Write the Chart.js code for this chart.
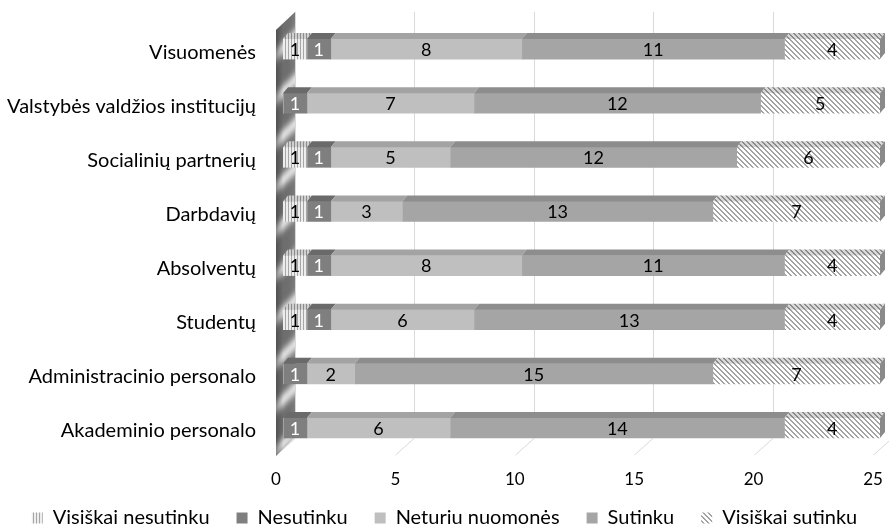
<!DOCTYPE html>
<html><head><meta charset="utf-8">
<script src="https://cdn.jsdelivr.net/npm/chart.js@4/dist/chart.umd.min.js"></script>
<style>html,body{margin:0;padding:0;background:#fff}</style>
</head><body>
<canvas id="c" width="889" height="530" style="width:889px;height:530px;display:block"></canvas>
<script>
const categories = ['Visuomenės','Valstybės valdžios institucijų','Socialinių partnerių','Darbdavių','Absolventų','Studentų','Administracinio personalo','Akademinio personalo'];
const seriesNames = ['Visiškai nesutinku','Nesutinku','Neturiu nuomonės','Sutinku','Visiškai sutinku'];
const visiskaiNesutinku = [1,0,1,1,1,1,0,0];
const nesutinku = [1,1,1,1,1,1,1,1];
const neturiuNuomones = [8,7,5,3,8,6,2,6];
const sutinku = [11,12,12,13,11,13,15,14];
const visiskaiSutinku = [4,5,6,7,4,4,7,4];
const xTickValues = [0,5,10,15,20,25];

const FONT = 'Lato';

function makeCanvas(w,h){const c=document.createElement('canvas');c.width=w;c.height=h;return c;}
function vStripe(bg, fg){
  const c=makeCanvas(3,3), g=c.getContext('2d');
  g.fillStyle=bg; g.fillRect(0,0,3,3); g.fillStyle=fg; g.fillRect(0,0,1,3);
  return g.createPattern(c,'repeat');
}
function hatch(bg, fg){
  const n=5, c=makeCanvas(n,n), g=c.getContext('2d');
  g.fillStyle=bg; g.fillRect(0,0,n,n); g.fillStyle=fg;
  for(let y=0;y<n;y++){ for(let k=0;k<2;k++){ g.fillRect((y+k)%n,y,1,1);} }
  return g.createPattern(c,'repeat');
}
function wallPattern(){
  const w=44,h=44,c=makeCanvas(w,h),g=c.getContext('2d');
  const img=g.createImageData(w,h);
  for(let y=0;y<h;y++)for(let x=0;x<w;x++){
    const ph=((x+y)%h)/h;
    const v=Math.round(110+110*Math.pow(Math.sin(Math.PI*ph),6));
    const i=(y*w+x)*4; img.data[i]=v;img.data[i+1]=v;img.data[i+2]=v;img.data[i+3]=255;
  }
  g.putImageData(img,0,0);
  return g.createPattern(c,'repeat');
}

const fills = [vStripe('#ededed','#a6a6a6'), '#7f7f7f', '#bfbfbf', '#a5a5a5', hatch('#ffffff','#a3a3a3')];
const tops  = [vStripe('#cfcfcf','#8c8c8c'), '#6a6a6a', '#a3a3a3', '#8d8d8d', hatch('#d9d9d9','#8a8a8a')];
const labelColors = ['#000','#fff','#000','#000','#000'];
const seriesData = [visiskaiNesutinku, nesutinku, neturiuNuomones, sutinku, visiskaiSutinku];

const DX=5, DY=6, BACK=12, FRONT=-7;

const threeD = {
  id:'threeD',
  afterLayout(chart){
    const L = chart.legend;
    if(L){ L.top -= 19; L.bottom -= 19; }
  },
  beforeDatasetsDraw(chart){
    const {ctx, scales:{x}} = chart;
    ctx.save();
    ctx.strokeStyle='#d9d9d9'; ctx.lineWidth=1;
    xTickValues.forEach(v=>{
      const fx = Math.round(x.getPixelForValue(v));
      ctx.beginPath();
      ctx.moveTo(fx+BACK+0.5, 12);
      ctx.lineTo(fx+BACK+0.5, 438);
      ctx.lineTo(fx+FRONT+0.5, 455);
      ctx.stroke();
    });
    const x0 = x.getPixelForValue(0);
    ctx.beginPath();
    ctx.moveTo(x0+FRONT, 30);
    ctx.lineTo(x0+BACK, 12);
    ctx.lineTo(x0+BACK, 437);
    ctx.lineTo(x0+FRONT, 456);
    ctx.closePath();
    ctx.fillStyle = wallPattern();
    ctx.fill();
    const gr = ctx.createLinearGradient(x0+FRONT,0,x0+BACK,0);
    gr.addColorStop(0,'rgba(50,50,50,0.5)');
    gr.addColorStop(0.4,'rgba(60,60,60,0.0)');
    gr.addColorStop(1,'rgba(255,255,255,0.1)');
    ctx.fillStyle=gr; ctx.fill();
    ctx.restore();
  },
  afterDatasetsDraw(chart){
    const ctx = chart.ctx;
    ctx.save();
    const n = categories.length;
    for(let i=0;i<n;i++){
      let last=null;
      for(let d=0; d<seriesData.length; d++){
        if(!seriesData[d][i]) continue;
        const el = chart.getDatasetMeta(d).data[i];
        const l=Math.min(el.base,el.x), r=Math.max(el.base,el.x), t=el.y-el.height/2;
        ctx.beginPath();
        ctx.moveTo(l,t); ctx.lineTo(r,t); ctx.lineTo(r+DX,t-DY); ctx.lineTo(l+DX,t-DY); ctx.closePath();
        ctx.fillStyle=tops[d]; ctx.fill();
        last={d,el,r,t,b:el.y+el.height/2};
      }
      if(last){
        ctx.beginPath();
        ctx.moveTo(last.r,last.t); ctx.lineTo(last.r+DX,last.t-DY); ctx.lineTo(last.r+DX,last.b-DY); ctx.lineTo(last.r,last.b); ctx.closePath();
        ctx.fillStyle='#8a8a8a'; ctx.fill();
      }
    }
    ctx.font = '18px '+FONT;
    ctx.textAlign='center'; ctx.textBaseline='middle';
    for(let d=0; d<seriesData.length; d++){
      const meta = chart.getDatasetMeta(d);
      meta.data.forEach((el,i)=>{
        const v = seriesData[d][i];
        if(!v) return;
        ctx.fillStyle=labelColors[d];
        ctx.fillText(String(v),(el.x+el.base)/2, el.y+1);
      });
    }
    ctx.restore();
  }
};

function noPad(s){ s.paddingTop=0; s.paddingBottom=0; s.paddingLeft=0; s.paddingRight=0; }

new Chart(document.getElementById('c').getContext('2d'), {
  type:'bar',
  data:{
    labels: categories,
    datasets: seriesNames.map((name,d)=>({
      label:name, data:seriesData[d], backgroundColor:fills[d], borderWidth:0,
      barThickness:20
    }))
  },
  options:{
    indexAxis:'y', responsive:false, animation:false,
    layout:{padding:{top:22, right:0, bottom:-27, left:0}},
    scales:{
      x:{stacked:true, min:0, max:25,
         ticks:{stepSize:5, labelOffset:-7, padding:14, color:'#000', font:{family:FONT,size:17}},
         grid:{display:false, drawTicks:false}, border:{display:false},
         afterFit:s=>{s.height=45; noPad(s); s.paddingRight=9;}},
      y:{stacked:true,
         ticks:{padding:27, labelOffset:3, color:'#000', font:{family:FONT,size:20}},
         grid:{display:false, drawTicks:false}, border:{display:false},
         afterFit:s=>{s.width=283; noPad(s);}}
    },
    plugins:{
      legend:{position:'bottom', labels:{boxWidth:11, boxHeight:11, padding:27, color:'#000', font:{family:FONT,size:20}}},
      tooltip:{enabled:false}
    }
  },
  plugins:[threeD]
});
</script>
</body></html>
